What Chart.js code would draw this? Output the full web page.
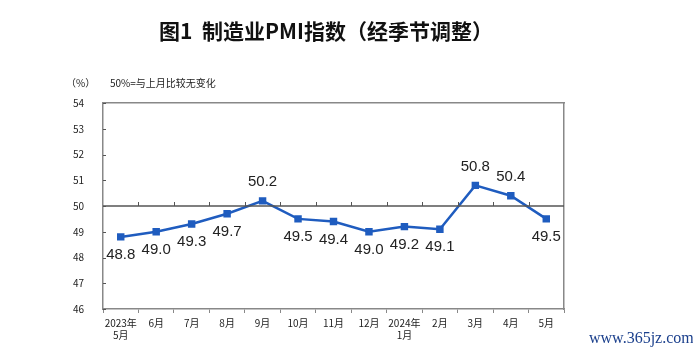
<!DOCTYPE html>
<html><head><meta charset="utf-8">
<script src="https://cdn.jsdelivr.net/npm/chart.js@4/dist/chart.umd.min.js"></script>
<style>
html,body{margin:0;padding:0;background:#fff;}
#wrap{position:relative;width:693px;height:355px;overflow:hidden;}
#c{position:absolute;left:0;top:0;}
.t{position:absolute;white-space:nowrap;color:#111;}
</style></head><body>
<div id="wrap">
<canvas id="c" width="693" height="355"></canvas>
<div class="t" style="left:0;width:652px;text-align:center;top:15px;font:bold 21px 'Noto Sans CJK SC';">图1&nbsp; 制造业PMI指数（经季节调整）</div>
<div class="t" style="left:66px;top:75px;font:10px 'Noto Sans CJK SC';color:#222;">（%）</div>
<div class="t" style="left:110px;top:75px;font:10px 'Noto Sans CJK SC';color:#222;">50%=与上月比较无变化</div>
<div class="t" style="left:589px;top:329px;font:16px 'Liberation Serif';color:#1a3f8c;">www.365jz.com</div>
</div>
<script>
const categories = [['2023年','5月'],'6月','7月','8月','9月','10月','11月','12月',['2024年','1月'],'2月','3月','4月','5月'];
const pmiValues = [48.8,49.0,49.3,49.7,50.2,49.5,49.4,49.0,49.2,49.1,50.8,50.4,49.5];
const yTicks = [46,47,48,49,50,51,52,53,54];
const referenceLevel = 50;

const extras = {
  id:'extras',
  afterDatasetsDraw(chart){
    const ctx = chart.ctx, x = chart.scales.x, y = chart.scales.y, a = chart.chartArea;
    const y50 = y.getPixelForValue(referenceLevel);
    ctx.save();
    ctx.strokeStyle = '#555'; ctx.lineWidth = 1.5;
    ctx.beginPath(); ctx.moveTo(a.left, y50); ctx.lineTo(a.right, y50); ctx.stroke();
    ctx.lineWidth = 1;
    for (let i = 1; i < categories.length; i++) {
      const px = Math.round((x.getPixelForValue(i-1) + x.getPixelForValue(i)) / 2) + 0.5;
      ctx.beginPath(); ctx.moveTo(px, y50); ctx.lineTo(px, y50 - 4); ctx.stroke();
    }
    yTicks.forEach(v => {
      const py = Math.round(y.getPixelForValue(v)) + 0.5;
      ctx.beginPath(); ctx.moveTo(a.left, py); ctx.lineTo(a.left + 3, py); ctx.stroke();
    });
    ctx.font = '15px "Liberation Sans", Arial';
    ctx.fillStyle = '#222'; ctx.textAlign = 'center'; ctx.textBaseline = 'middle';
    pmiValues.forEach((v, i) => {
      const px = x.getPixelForValue(i), py = y.getPixelForValue(v);
      const above = v > referenceLevel;
      ctx.fillText(v.toFixed(1), px, above ? py - 19 : py + 18);
    });
    ctx.restore();
  }
};

new Chart(document.getElementById('c'), {
  type:'line',
  data:{labels:categories, datasets:[{
    data:pmiValues, borderColor:'#1f5cbf', backgroundColor:'#1f5cbf', borderWidth:2.5,
    pointStyle:'rect', pointRadius:3.5, pointHoverRadius:3.5, tension:0
  }]},
  options:{
    responsive:false, animation:false,
    layout:{padding:{left:0, top:103, right:129, bottom:0}},
    plugins:{legend:{display:false}, tooltip:{enabled:false}, title:{display:false}},
    scales:{
      x:{
        offset:true,
        grid:{offset:true, drawOnChartArea:false, tickLength:4, color:'#888'},
        border:{color:'#888', width:1.5},
        ticks:{font:{family:'Noto Sans CJK SC', size:10}, color:'#222', padding:4, maxRotation:0, autoSkip:false},
        afterFit(s){ s.height = 46; }
      },
      y:{
        min:46, max:54,
        afterBuildTicks(s){ s.ticks = yTicks.map(v=>({value:v})); },
        grid:{drawOnChartArea:false, drawTicks:false, color:'#888'},
        border:{color:'#888', width:1.5},
        ticks:{font:{family:'Noto Sans CJK SC', size:10}, color:'#222', padding:19},
        afterFit(s){ s.width = 103; }
      },
      x2:{position:'top', display:true, grid:{display:false, drawTicks:false}, border:{color:'#888', width:1.5}, ticks:{display:false}, afterFit(s){ s.height = 0; }},
      y2:{position:'right', display:true, grid:{display:false, drawTicks:false}, border:{color:'#888', width:1.5}, ticks:{display:false}, afterFit(s){ s.width = 0; }}
    }
  },
  plugins:[extras]
});
</script>
</body></html>
